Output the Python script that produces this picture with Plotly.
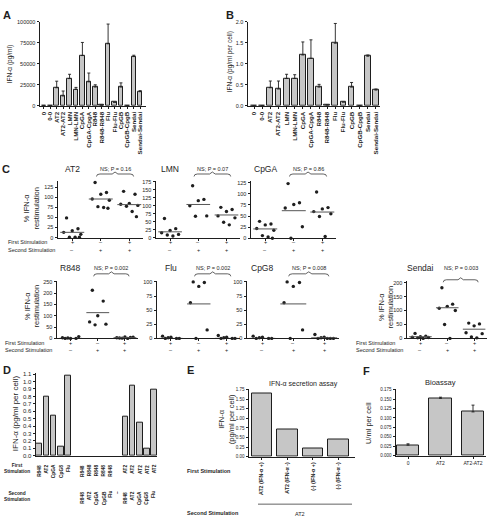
import plotly.graph_objects as go

W, H = 488, 520
FONT = "Liberation Sans, Arial, Helvetica, sans-serif"
INK = "#1e1e1e"
BAR = "#c6c6c6"
MED = "#555555"

# ---------------- Panel A / B data ----------------
ab_labels = ["0", "0-0", "AT2", "AT2-AT2", "LMN", "LMN-LMN", "CpGA", "CpGA-CpgA",
             "R848", "R848-R848", "Flu", "Flu-Flu", "CpGB", "CpGB-CpgB", "Sendai", "Sendai-Sendai"]
a_values = [0, 0, 21500, 11700, 32400, 19500, 59800, 28500, 22300, 800, 73800, 4300, 22300, 0, 58600, 16800]
a_err = [0, 0, 7800, 5900, 5100, 2400, 15600, 10500, 2700, 0, 23500, 0, 5000, 0, 1600, 1200]
b_values = [0, 0, 0.43, 0.40, 0.65, 0.65, 1.21, 1.13, 0.445, 0.02, 1.49, 0.09, 0.445, 0, 1.18, 0.375]
b_err = [0, 0, 0.16, 0.19, 0.10, 0.09, 0.31, 0.44, 0.065, 0, 0.47, 0, 0.11, 0, 0.03, 0.025]

# ---------------- Panel C data ----------------
c_first_stim = ["+", "\u2013", "+"]
c_second_stim = ["\u2013", "+", "+"]

at2_first = [49, 22, 17, 13, 8, 1, 1, 1]
at2_second = [137, 112, 108, 96, 93, 77, 75, 73]
at2_both = [115, 108, 85, 83, 80, 78, 65, 52]
at2_median = [13, 96, 82]
at2_p = "NS; P = 0.16"

lmn_first = [60, 28, 22, 15, 10, 8, 5]
lmn_second = [163, 120, 116, 100, 68, 67]
lmn_both = [95, 88, 82, 68, 62, 48, 40]
lmn_median = [18, 104, 71]
lmn_p = "NS; P = 0.07"

cpga_first = [38, 32, 30, 22, 18, 6, 3, 0]
cpga_second = [123, 80, 76, 68, 26, 0]
cpga_both = [104, 69, 66, 60, 55, 49, 4]
cpga_median = [21, 62, 59]
cpga_p = "NS; P = 0.86"

r848_first = [0, 0, 0, 3, 8, 2]
r848_second = [213, 165, 100, 73, 63, 60]
r848_both = [2, 4, 6, 3, 5, 1, 0]
r848_median = [0, 114, 3]
r848_p = "NS; P = 0.002"

flu_first = [0, 0, 2, 4, 0, 1]
flu_second = [100, 99, 92, 63, 15, 0]
flu_both = [0, 0, 2, 5, 0, 1]
flu_median = [0, 61, 0]
flu_p = "NS; P = 0.002"

cpg8_first = [0, 0, 2, 4, 0, 1]
cpg8_second = [100, 99, 92, 63, 15, 0]
cpg8_both = [0, 0, 2, 7, 0, 1, 0]
cpg8_median = [0, 61, 1]
cpg8_p = "NS; P = 0.008"

sendai_first = [18, 8, 6, 4, 3, 2, 0]
sendai_second = [182, 123, 115, 108, 100, 50, 0]
sendai_both = [55, 52, 45, 20, 17, 5, 2]
sendai_median = [6, 110, 33]
sendai_p = "NS; P = 0.003"

# ---------------- Panel D data ----------------
d_first = ["R848", "AT2", "CpGA", "CpG8", "Flu", "",
           "R848", "R848", "R848", "R848", "R848", "",
           "AT2", "AT2", "AT2", "AT2", "AT2"]
d_second = ["", "", "", "", "", "",
            "R848", "AT2", "CpGA", "CpGB", "Flu", "\u2013",
            "R848", "AT2", "CpGA", "CpG8", "Flu"]
d_values = [0.156, 0.80, 0.54, 0.125, 1.08, None,
            None, None, None, None, None, None,
            0.52, 0.95, 0.45, 0.094, 0.89]

# ---------------- Panel E data ----------------
e_labels = ["AT2 (IFN-\u03b1 +)", "AT2 (IFN-\u03b1 -)", "(-) (IFN-\u03b1 +)", "(-) (IFN-\u03b1 -)"]
e_values = [1.64, 0.70, 0.22, 0.46]

# ---------------- Panel F data ----------------
f_labels = ["0", "AT2", "AT2-AT2"]
f_values = [0.028, 0.152, 0.116]
f_err = [0.0035, 0.003, 0.018]


def xp(px):
    return px / W


def yp(py):
    return 1 - py / H


fig = go.Figure()
axes = {}
annotations = []
shapes = []


def names(i):
    return ("x" if i == 1 else f"x{i}"), ("y" if i == 1 else f"y{i}")


def add_axes(i, x0, x1, ytop, ybot, yrange, ydtick, xrange, xticks=None, xtext=None,
             xangle=0, yfmt=None, xfont=None, yfont=5.5, xlabels=True, xticklen=2.5):
    xr, yr = names(i)
    common = dict(showline=True, linecolor=INK, linewidth=1, ticks="outside",
                  tickwidth=0.8, tickcolor=INK, showgrid=False, zeroline=False,
                  fixedrange=True)
    axes["xaxis" if i == 1 else f"xaxis{i}"] = dict(
        common, domain=[xp(x0), xp(x1)], anchor=yr, range=xrange, ticklen=xticklen,
        tickmode="array", tickvals=xticks if xticks is not None else [],
        ticktext=xtext, tickangle=xangle, showticklabels=xlabels,
        tickfont=xfont or dict(size=5.5, family=FONT, color=INK))
    axes["yaxis" if i == 1 else f"yaxis{i}"] = dict(
        common, domain=[yp(ybot), yp(ytop)], anchor=xr, range=yrange, ticklen=2.5,
        tick0=0, dtick=ydtick, tickformat=yfmt,
        tickfont=dict(size=yfont, family=FONT, color=INK))
    return xr, yr


def text(t, px, py, size, angle=0, xa="center", ya="middle", bold=False, xref="paper", xval=None):
    annotations.append(dict(
        text=f"<b>{t}</b>" if bold else t,
        x=(px / W) if xref == "paper" else xval, y=yp(py),
        xref=xref, yref="paper", showarrow=False, textangle=angle,
        xanchor=xa, yanchor=ya, font=dict(size=size, family=FONT, color=INK)))


def bar_trace(xr, yr, xs, ys, width, err=None):
    kw = {}
    if err is not None:
        kw["error_y"] = dict(type="data", symmetric=False, array=err, arrayminus=[0] * len(err),
                             color=INK, thickness=0.9, width=1.5)
    fig.add_trace(go.Bar(x=xs, y=ys, width=width, xaxis=xr, yaxis=yr,
                         marker=dict(color=BAR, line=dict(color=INK, width=1)),
                         hoverinfo="skip", **kw))


ABFONT = dict(size=6.2, family=FONT, color=INK, weight="bold")

# ---------------- Panel A ----------------
xr, yr = add_axes(1, 40, 146, 19, 104, [0, 100000], 25000, [-0.6, 15.9],
                  xticks=list(range(len(ab_labels))), xtext=ab_labels, xangle=-90, yfmt="d",
                  xfont=ABFONT)
bar_trace(xr, yr, list(range(len(ab_labels))), a_values, 0.7, a_err)
text("A", 7, 12, 11, bold=True)
text("IFN-\u03b1 (pg/ml)", 10, 62, 6.5, angle=-90)

# ---------------- Panel B ----------------
xr, yr = add_axes(2, 248, 380, 19, 104, [0, 2], 0.5, [-0.75, 15.5],
                  xticks=list(range(len(ab_labels))), xtext=ab_labels, xangle=-90, yfmt=".1f",
                  xfont=ABFONT)
bar_trace(xr, yr, list(range(len(ab_labels))), b_values, 0.72, b_err)
text("B", 230, 12, 11, bold=True)
text("IFN-\u03b1 (pg/ml per cell)", 230, 60, 6.5, angle=-90)

# ---------------- Panel C ----------------
jit = [-0.2, 0.2, 0.0, -0.3, 0.3, -0.1, 0.1, 0.25]

c_panels = [
    (3, "AT2", at2_first, at2_second, at2_both, at2_median, at2_p, 58, 143, 180, 237.3, 141, 25, 1),
    (4, "LMN", lmn_first, lmn_second, lmn_both, lmn_median, lmn_p, 156, 240, 180, 237.3, 178, 25, 1),
    (5, "CpGA", cpga_first, cpga_second, cpga_both, cpga_median, cpga_p, 251, 336, 180, 238, 129, 25, 1),
    (6, "R848", r848_first, r848_second, r848_both, r848_median, r848_p, 57, 138, 281.5, 339.3, 253, 50, 2),
    (7, "Flu", flu_first, flu_second, flu_both, flu_median, flu_p, 157, 240, 281, 339.3, 102, 25, 2),
    (8, "CpG8", cpg8_first, cpg8_second, cpg8_both, cpg8_median, cpg8_p, 247, 339, 281, 339.3, 102, 25, 2),
    (9, "Sendai", sendai_first, sendai_second, sendai_both, sendai_median, sendai_p, 407, 487, 281, 339.3, 207, 50, 2),
]

for (i, title, g1, g2, g3, med, ptxt, x0, x1, ytop, ybot, ymax, dt, row) in c_panels:
    xr, yr = add_axes(i, x0, x1, ytop, ybot, [0, ymax], dt, [0.5, 3.48],
                      xticks=[1, 2, 3], xlabels=False, xticklen=2)
    xs, ys = [], []
    for g, vals in enumerate([g1, g2, g3], start=1):
        for k, v in enumerate(vals):
            xs.append(g + jit[k % len(jit)])
            ys.append(v)
    fig.add_trace(go.Scatter(x=xs, y=ys, mode="markers", xaxis=xr, yaxis=yr,
                             marker=dict(size=3.4, color=INK), cliponaxis=False, hoverinfo="skip"))
    for g, m in enumerate(med, start=1):
        fig.add_trace(go.Scatter(x=[g - 0.42, g + 0.42], y=[m, m], mode="lines", xaxis=xr, yaxis=yr,
                                 line=dict(color=MED, width=1), cliponaxis=False, hoverinfo="skip"))
    ty = 168 if row == 1 else 268
    text(title, 0, ty, 8.5, xref=xr, xval=1)
    text(ptxt, 0, ty, 5.5, xref=xr, xval=2.5)
    by = 173 if row == 1 else (280 if title == "Sendai" else 274)
    x_a, x_b, xm = 1.85, 3.15, 2.5
    path = (f"M {x_a},{yp(by + 2.5)} Q {x_a},{yp(by)} {x_a + 0.12},{yp(by)} "
            f"L {xm - 0.1},{yp(by)} L {xm},{yp(by - 2)} L {xm + 0.1},{yp(by)} "
            f"L {x_b - 0.12},{yp(by)} Q {x_b},{yp(by)} {x_b},{yp(by + 2.5)}")
    shapes.append(dict(type="path", xref=xr, yref="paper", path=path,
                       line=dict(color=INK, width=0.7)))
    r1, r2 = (242, 250) if row == 1 else (344, 351)
    for g in range(3):
        text(c_first_stim[g], 0, r1, 5.5, xref=xr, xval=g + 1)
        text(c_second_stim[g], 0, r2, 5.5, xref=xr, xval=g + 1)

text("C", 6, 168, 11, bold=True)
text("% IFN-\u03b1<br>restimulation", 32, 208, 7.5, angle=-90)
text("% IFN-\u03b1<br>restimulation", 32, 307, 7.5, angle=-90)
text("% IFN-\u03b1<br>restimulation", 386, 308, 7.5, angle=-90)
for (lx, r1, r2) in [(6, 242, 250), (3, 344, 351), (354, 344, 351)]:
    text("First Stimulation", lx, r1, 5.5, xa="left")
    text("Second Stimulation", lx, r2, 5.5, xa="left")

# ---------------- Panel D ----------------
xr, yr = add_axes(10, 36, 157, 374, 458, [0, 1.12], 0.1, [-0.45, 16.4],
                  xlabels=False, yfmt=".1f", yfont=6)
axes["xaxis10"]["ticks"] = ""
slots = list(range(len(d_values)))
bar_trace(xr, yr, slots, d_values, 0.8)
for s in slots:
    if d_first[s]:
        text(d_first[s], 0, 465, 4.8, angle=-90, ya="top", xref=xr, xval=s, bold=True)
    if d_second[s]:
        text(d_second[s], 0, 492, 4.8, angle=-90, ya="top", xref=xr, xval=s, bold=True)
text("D", 7, 371, 11, bold=True)
text("IFN-\u03b1 (pg/ml per cell)", 15, 415, 8, angle=-90)
text("First<br>Stimulation", 2, 471, 4.8, xa="left", bold=True)
text("Second<br>Stimulation", 2, 499, 4.8, xa="left", bold=True)

# ---------------- Panel E ----------------
xr, yr = add_axes(11, 249, 355, 390, 459, [0, 1.78], 0.25, [-0.5, 3.65],
                  xticks=list(range(len(e_labels))), xtext=e_labels, xangle=-90, yfmt=".2f",
                  xfont=dict(size=5.3, family=FONT, color=INK, weight="bold"), yfont=4.5)
bar_trace(xr, yr, list(range(len(e_labels))), e_values, 0.8)
text("E", 190, 371, 11, bold=True)
text("IFN-\u03b1 secretion assay", 303, 385, 7)
text("IFN-\u03b1<br>(pg/ml per cell)", 226, 421, 7.5, angle=-90)
text("First Stimulation", 185, 473, 5.5, xa="left", bold=True)
text("Second Stimulation", 185, 516, 5.5, xa="left", bold=True)
text("AT2", 300, 517, 5.5)
shapes.append(dict(type="line", xref="paper", yref="paper", x0=xp(258), x1=xp(352),
                   y0=yp(507), y1=yp(507), line=dict(color=INK, width=0.7)))

# ---------------- Panel F ----------------
xr, yr = add_axes(12, 396, 486, 390, 458, [0, 0.178], 0.025, [-0.37, 2.4],
                  xticks=list(range(len(f_labels))), xtext=f_labels, yfmt=".3f",
                  xfont=dict(size=5, family=FONT, color=INK), yfont=4.5)
bar_trace(xr, yr, list(range(len(f_labels))), f_values, 0.7, f_err)
text("F", 366, 372, 11, bold=True)
text("Bioassay", 440, 384, 7.5)
text("U/ml per cell", 368, 425, 7.5, angle=-90)

fig.update_layout(width=W, height=H, margin=dict(l=0, r=0, t=0, b=0),
                  paper_bgcolor="white", plot_bgcolor="white", showlegend=False,
                  font=dict(family=FONT, color=INK), annotations=annotations,
                  shapes=shapes, bargap=0, **axes)
fig.write_html("out.html", config={"displayModeBar": False})
